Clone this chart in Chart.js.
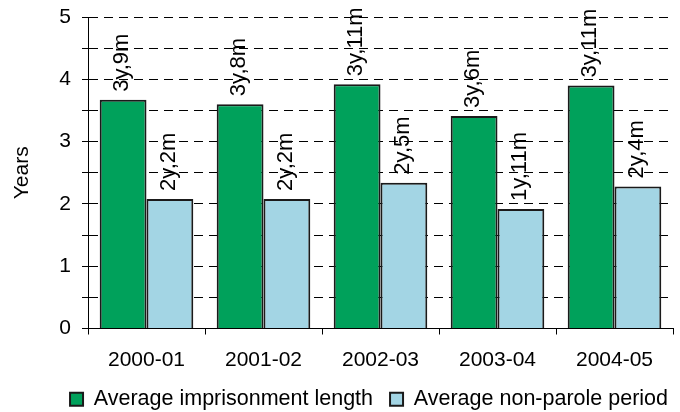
<!DOCTYPE html>
<html>
<head>
<meta charset="utf-8">
<script src="https://cdn.jsdelivr.net/npm/chart.js@4/dist/chart.umd.min.js"></script>
<style>
  html, body { margin: 0; padding: 0; background: #fff; }
  #wrap { width: 680px; height: 412px; }
</style>
</head>
<body>
<div id="wrap"><canvas id="chart"></canvas></div>
<script>
const periods = ['2000-01', '2001-02', '2002-03', '2003-04', '2004-05'];
const imprisonment = [3.67, 3.60, 3.92, 3.41, 3.90];
const nonParole = [2.08, 2.08, 2.34, 1.92, 2.28];
const imprisonmentLabels = ['3y,9m', '3y,8m', '3y,11m', '3y,6m', '3y,11m'];
const nonParoleLabels = ['2y,2m', '2y,2m', '2y,5m', '1y,11m', '2y,4m'];

const FONT = 'Arial, "Liberation Sans", sans-serif';

// rotated value labels above each bar
const barLabels = {
  id: 'barLabels',
  afterDatasetsDraw(chart) {
    const ctx = chart.ctx;
    ctx.save();
    ctx.font = '22px ' + FONT;
    ctx.fillStyle = '#000';
    ctx.textAlign = 'left';
    ctx.textBaseline = 'middle';
    chart.data.datasets.forEach((ds, i) => {
      chart.getDatasetMeta(i).data.forEach((bar, j) => {
        ctx.save();
        ctx.translate(bar.x - 1, bar.y - 8);
        ctx.rotate(-Math.PI / 2);
        ctx.fillText(ds.valueLabels[j], 0, 0);
        ctx.restore();
      });
    });
    ctx.restore();
  }
};

// nudge legend so it ends near the right edge like the original
const legendShift = {
  id: 'legendShift',
  afterLayout(chart) {
    chart.legend.left += 12;
    chart.legend.right += 12;
  }
};

new Chart(document.getElementById('chart'), {
  type: 'bar',
  data: {
    labels: periods,
    datasets: [{
      label: 'Average imprisonment length',
      data: imprisonment,
      valueLabels: imprisonmentLabels,
      backgroundColor: '#00A15B',
      borderColor: '#1a1a1a',
      borderWidth: 2,
      barPercentage: 1,
      categoryPercentage: 0.8
    }, {
      label: 'Average non-parole period',
      data: nonParole,
      valueLabels: nonParoleLabels,
      backgroundColor: '#A3D5E4',
      borderColor: '#1a1a1a',
      borderWidth: 2,
      barPercentage: 1,
      categoryPercentage: 0.8
    }]
  },
  options: {
    responsive: true,
    maintainAspectRatio: false,
    animation: false,
    layout: { padding: { top: 0, right: 7, left: 0, bottom: -8 } },
    plugins: {
      tooltip: { enabled: false },
      legend: {
        position: 'bottom',
        align: 'end',
        labels: {
          font: { family: FONT, size: 21.5 },
          color: '#000',
          boxWidth: 13,
          boxHeight: 13,
          padding: 17
        }
      }
    },
    scales: {
      x: {
        offset: true,
        afterFit(scale) { scale.height = 43; },
        grid: { offset: true, drawOnChartArea: false, drawTicks: true, tickLength: 6, color: '#000' },
        border: { color: '#000', width: 1 },
        ticks: { font: { family: FONT, size: 21 }, color: '#000', padding: 13 }
      },
      y: {
        min: 0,
        max: 5,
        afterFit(scale) {
          scale.width = 88;
          scale.paddingTop = 17;
        },
        grid: { color: '#000', tickLength: 6 },
        border: { color: '#000', width: 1, dash: [9, 6] },
        ticks: {
          stepSize: 0.5,
          autoSkip: false,
          padding: 11,
          font: { family: FONT, size: 21 },
          color: '#000',
          callback: v => Number.isInteger(v) ? v : ''
        },
        title: {
          display: true,
          text: 'Years',
          font: { family: FONT, size: 21 },
          color: '#000',
          padding: { top: 10, bottom: 0 }
        }
      }
    }
  },
  plugins: [barLabels, legendShift]
});
</script>
</body>
</html>
